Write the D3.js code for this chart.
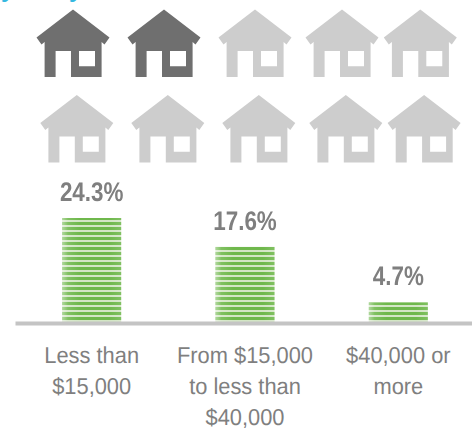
<!DOCTYPE html>
<html>
<head>
<meta charset="utf-8">
<script src="https://cdn.jsdelivr.net/npm/d3@7"></script>
<style>
    html, body { margin: 0; padding: 0; background: #fff; overflow: hidden; }
    svg { display: block; }
    text { font-family: "Liberation Sans", Arial, sans-serif; text-rendering: geometricPrecision; }
    #labels, #bars { opacity: 0.999; }
</style>
</head>
<body>
<svg id="chart" width="472" height="429"></svg>
<script>
// Data
var categories = ["Less than $15,000", "From $15,000 to less than $40,000", "$40,000 or more"];
var categoryLines = [
    ["Less than", "$15,000"],
    ["From $15,000", "to less than", "$40,000"],
    ["$40,000 or", "more"]
];
var values = [24.3, 17.6, 4.7];
var valueLabels = ["24.3%", "17.6%", "4.7%"];
var housesTotal = 10;
var housesFilled = 2;

// Dimension
var baseline = 322.6,
    barTop = 218;

var svg = d3.select("#chart");
var defs = svg.append("defs");

// Cut off title, only the descenders stay in the picture
svg.selectAll(".titleFrag")
    .data(["y", "y"])
    .enter().append("text")
    .attr("class", "titleFrag")
    .attr("x", (d, i) => i === 0 ? 1 : 69)
    .attr("y", -3)
    .attr("font-size", 24)
    .attr("font-weight", "bold")
    .style("fill", "#35b8e0")
    .text(d => d);

// Houses
// --------------------
var houseCols = [73, 164, 255, 342, 420.3];
var houseRows = [{ y: 9.5, dx: 0 }, { y: 95, dx: 3.8 }];
var housePath = "M0,0L36.5,28L31.5,35L28.6,32.5V67.5H-2V41.5H-17.4V67.5H-28.4V32.5L-31.5,35L-36.5,28Z" +
    "M6,41.5V56.7H22V41.5Z";

var houses = d3.range(housesTotal).map(i => ({
    i: i,
    col: i % houseCols.length,
    row: Math.floor(i / houseCols.length)
}));

svg.append("g").attr("id", "houses")
    .selectAll("path")
    .data(houses)
    .enter().append("path")
    .attr("d", housePath)
    .attr("fill-rule", "evenodd")
    .attr("transform", d => `translate(${houseCols[d.col] + houseRows[d.row].dx}, ${houseRows[d.row].y})`)
    .style("fill", d => d.i < housesFilled ? "#6f6f6f" : "#cdcdcd");

// Scales
// --------------------
var x = d3.scaleBand()
    .domain(categories)
    .range([15, 475])
    .paddingInner(0.615)
    .paddingOuter(0.3075);

var y = d3.scaleLinear()
    .domain([0, d3.max(values)])
    .range([baseline, barTop]);

// Striped fill for bars
// --------------------
var stripe = defs.append("pattern")
    .attr("id", "stripes")
    .attr("patternUnits", "userSpaceOnUse")
    .attr("width", 8)
    .attr("height", 5);
stripe.append("rect")
    .attr("width", 8)
    .attr("height", 5)
    .style("fill", "#d3e6c5");
stripe.append("rect")
    .attr("y", 2)
    .attr("width", 8)
    .attr("height", 3)
    .style("fill", "#6fb84c");

var edge = defs.append("linearGradient").attr("id", "barEdge");
[[0, 0.45], [0.1, 0.12], [0.3, 0], [0.8, 0], [1, 0.12]].forEach(s => {
    edge.append("stop")
        .attr("offset", s[0])
        .attr("stop-color", "#fff")
        .attr("stop-opacity", s[1]);
});

// Bars
// --------------------
var bars = svg.append("g").attr("id", "bars")
    .selectAll("g")
    .data(values)
    .enter().append("g");

bars.append("rect")
    .attr("x", (d, i) => x(categories[i]))
    .attr("y", d => y(d))
    .attr("width", x.bandwidth())
    .attr("height", d => baseline - y(d))
    .style("fill", "url(#stripes)");

bars.append("rect")
    .attr("x", (d, i) => x(categories[i]))
    .attr("y", d => y(d))
    .attr("width", x.bandwidth())
    .attr("height", d => baseline - y(d))
    .style("fill", "url(#barEdge)");

// Value labels, the original type is squeezed a bit
bars.append("text")
    .attr("transform", (d, i) => `translate(${x(categories[i]) + x.bandwidth() / 2}, ${y(d) - 17}) scale(0.83, 1)`)
    .attr("text-anchor", "middle")
    .attr("font-size", 27)
    .attr("font-weight", "bold")
    .style("fill", "#7f7f7f")
    .text((d, i) => valueLabels[i]);

// Axis
// --------------------
var axis = svg.append("g")
    .attr("id", "axis")
    .attr("transform", "translate(0, 323)")
    .call(d3.axisBottom(x).tickSize(0).tickFormat(""));
axis.select(".domain")
    .style("stroke", "#c4c4c4")
    .style("stroke-width", 4);

// Category labels
// --------------------
var labels = svg.append("g").attr("id", "labels")
    .selectAll("g")
    .data(categoryLines)
    .enter().append("g")
    .attr("transform", (d, i) => `translate(${x(categories[i]) + x.bandwidth() / 2}, 0)`);

labels.selectAll("text")
    .data(d => d)
    .enter().append("text")
    .attr("transform", (d, i) => `translate(0, ${363 + i * 31}) scale(0.95, 1)`)
    .attr("text-anchor", "middle")
    .attr("font-size", 23)
    .style("fill", "#7f7f7f")
    .text(d => d);
</script>
</body>
</html>
